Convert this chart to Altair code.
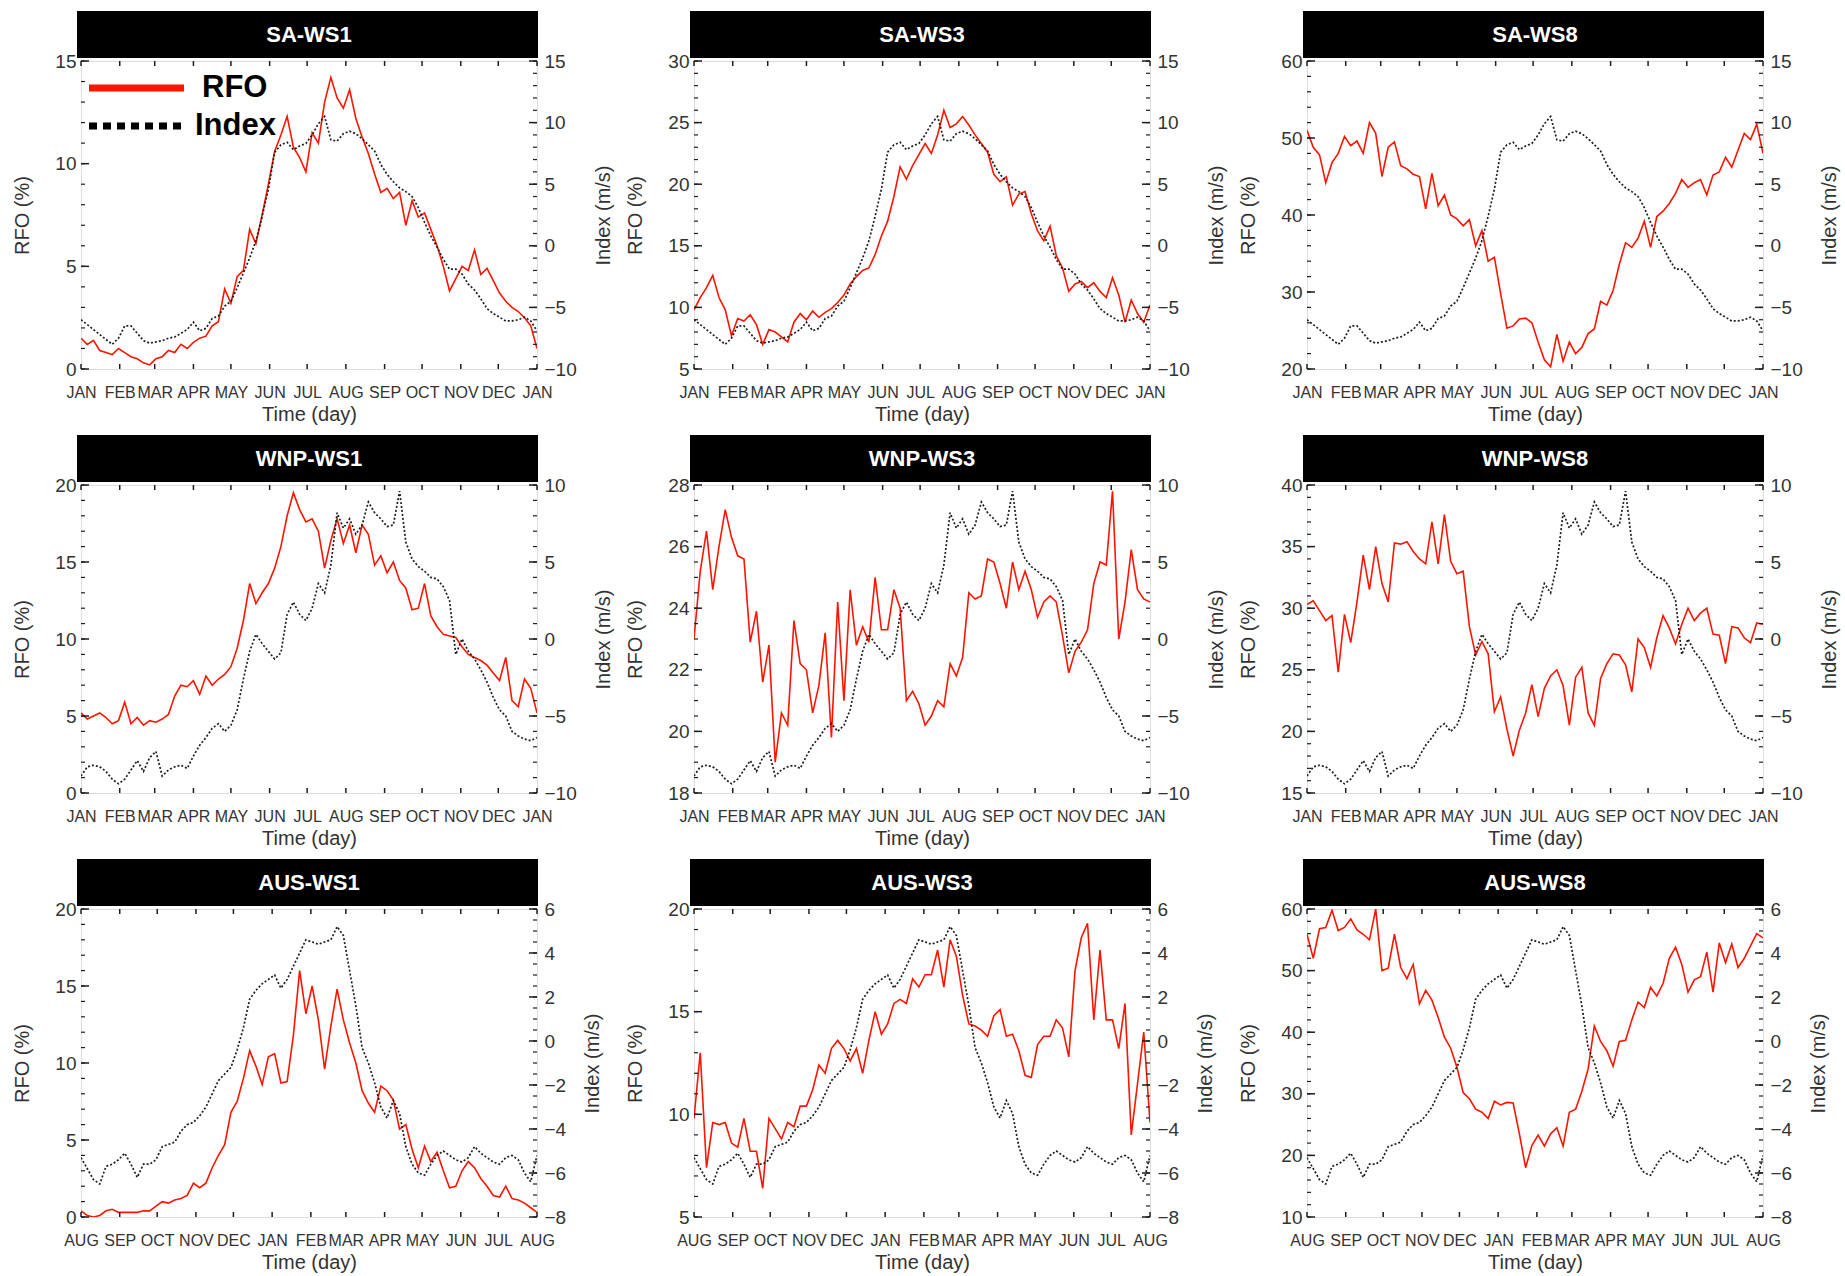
import altair as alt
import numpy as np
import pandas as pd

# ---------------- data (every 5 days) ----------------
DAYS = list(range(0, 366, 5))

MONTHS_JAN = ["JAN", "FEB", "MAR", "APR", "MAY", "JUN", "JUL", "AUG", "SEP", "OCT", "NOV", "DEC", "JAN"]
MONTH_DAYS_JAN = [0, 31, 59, 90, 120, 151, 181, 212, 243, 273, 304, 334, 365]
MONTHS_AUG = ["AUG", "SEP", "OCT", "NOV", "DEC", "JAN", "FEB", "MAR", "APR", "MAY", "JUN", "JUL", "AUG"]
MONTH_DAYS_AUG = [0, 31, 61, 92, 122, 153, 184, 212, 243, 273, 304, 334, 365]

SA_INDEX = [-6.0, -6.4, -6.8, -7.2, -7.6, -8.0, -7.5, -6.5, -6.5, -7.1,
            -7.7, -7.9, -7.8, -7.7, -7.5, -7.4, -7.1, -6.8, -6.2, -6.9,
            -6.7, -5.9, -5.7, -4.9, -4.5, -3.4, -2.2, -1.0, 0.4, 2.4,
            4.6, 7.6, 8.2, 8.4, 7.8, 8.1, 8.3, 9.0, 9.9, 10.5,
            8.6, 8.5, 9.1, 9.3, 9.1, 8.7, 8.2, 7.7, 6.6, 5.8,
            5.2, 4.7, 4.4, 4.0, 3.1, 1.9, 0.8, -0.1, -1.1, -1.9,
            -1.9, -2.3, -3.1, -3.6, -4.3, -5.1, -5.5, -5.8, -6.1, -6.1,
            -6.0, -5.8, -6.1, -6.9]

WNP_INDEX = [-8.9, -8.3, -8.2, -8.3, -8.6, -9.1, -9.4, -9.1, -8.5, -7.9,
             -8.6, -7.7, -7.3, -8.9, -8.5, -8.3, -8.2, -8.4, -7.6, -6.9,
             -6.4, -5.8, -5.5, -6.0, -5.6, -4.6, -2.6, -0.8, 0.3, -0.3,
             -0.8, -1.3, -0.9, 1.6, 2.4, 1.6, 1.2, 2.0, 3.6, 3.0,
             4.8, 8.2, 7.2, 7.8, 6.8, 7.4, 8.9, 8.2, 7.8, 7.3,
             7.4, 9.6, 6.3, 5.2, 4.7, 4.4, 4.0, 3.9, 3.4, 2.5,
             -1.0, 0.0, -0.8, -1.3, -2.0, -2.8, -3.8, -4.6, -5.0, -6.0,
             -6.3, -6.5, -6.6, -6.4]

AUS_INDEX = [-5.3, -5.8, -6.3, -6.5, -5.7, -5.6, -5.4, -5.1, -5.6, -6.2,
             -5.6, -5.6, -5.4, -4.8, -4.7, -4.6, -4.1, -3.8, -3.7, -3.4,
             -3.0, -2.4, -1.8, -1.5, -1.2, -0.4, 0.6, 1.9, 2.3, 2.6,
             2.8, 3.0, 2.4, 2.8, 3.4, 4.0, 4.6, 4.5, 4.4, 4.5,
             4.6, 5.2, 4.8, 3.2, 1.6, -0.3, -1.0, -1.9, -3.0, -3.5,
             -2.7, -3.3, -4.8, -5.6, -6.0, -6.1, -5.6, -5.2, -5.0, -5.2,
             -5.4, -5.5, -5.3, -4.8, -5.1, -5.3, -5.5, -5.6, -5.3, -5.2,
             -5.4, -6.0, -6.4, -5.2]

SA_WS1_RFO = [1.5, 1.2, 1.4, 0.9, 0.8, 0.7, 1.0, 0.8, 0.6, 0.5,
              0.3, 0.2, 0.5, 0.6, 0.9, 0.8, 1.2, 1.0, 1.3, 1.5,
              1.6, 2.1, 2.3, 3.9, 3.2, 4.5, 4.8, 6.8, 6.1, 7.5,
              9.0, 10.6, 11.4, 12.3, 10.8, 10.3, 9.6, 11.5, 11.0, 13.0,
              14.2, 13.2, 12.7, 13.6, 12.2, 11.3, 10.5, 9.5, 8.6, 8.8,
              8.3, 8.6, 7.0, 8.2, 7.4, 7.6, 6.8, 6.0, 5.0, 3.8,
              4.4, 5.0, 4.8, 5.8, 4.6, 4.9, 4.3, 3.7, 3.3, 3.0,
              2.8, 2.5, 2.1, 1.0]

SA_WS3_RFO = [9.8, 10.8, 11.6, 12.6, 10.8, 9.8, 7.7, 9.1, 8.9, 9.4,
              8.6, 7.0, 8.2, 8.0, 7.6, 7.2, 8.8, 9.5, 9.0, 9.7,
              9.2, 9.6, 9.9, 10.4, 11.0, 11.9, 12.5, 13.0, 13.2, 14.3,
              15.8, 17.0, 19.0, 21.4, 20.4, 21.5, 22.4, 23.3, 22.5, 24.0,
              26.0, 24.6, 24.9, 25.5, 24.8, 24.0, 23.3, 22.6, 20.8, 20.2,
              20.6, 18.3, 19.2, 19.4, 17.6, 16.2, 15.4, 16.6, 14.2, 13.2,
              11.3, 11.9, 12.1, 11.6, 12.0, 11.3, 10.8, 12.4, 11.0, 8.8,
              10.6, 9.5, 8.8, 10.2]

SA_WS8_RFO = [51.0, 48.8, 47.8, 44.2, 46.8, 48.0, 50.2, 49.0, 49.6, 48.0,
              52.0, 50.6, 45.0, 48.8, 49.5, 46.4, 46.0, 45.3, 45.0, 40.8,
              45.4, 41.2, 42.6, 40.0, 39.5, 38.6, 39.4, 36.0, 38.0, 34.0,
              34.5, 29.8, 25.3, 25.6, 26.5, 26.6, 26.0, 23.5, 21.2, 20.3,
              24.5, 21.0, 23.5, 22.0, 22.8, 24.6, 25.2, 28.8, 28.3, 30.2,
              33.6, 36.4, 35.8, 37.0, 39.2, 35.8, 39.8, 40.5, 41.5, 42.8,
              44.6, 43.6, 44.2, 44.6, 42.6, 45.2, 45.6, 47.5, 46.2, 48.4,
              50.6, 49.8, 51.8, 48.0]

WNP_WS1_RFO = [5.2, 4.8, 5.0, 5.2, 4.9, 4.5, 4.7, 5.9, 4.5, 4.9,
               4.4, 4.7, 4.6, 4.8, 5.1, 6.3, 7.0, 6.9, 7.3, 6.4,
               7.6, 7.0, 7.4, 7.7, 8.2, 9.4, 11.2, 13.6, 12.3, 13.0,
               13.6, 14.6, 16.0, 18.0, 19.5, 18.4, 17.6, 17.8, 17.0, 14.6,
               16.4, 17.8, 16.2, 17.4, 15.6, 17.4, 16.8, 14.8, 15.4, 14.3,
               15.0, 13.8, 13.3, 11.9, 12.0, 13.6, 11.5, 10.8, 10.3, 10.2,
               10.1, 9.5, 9.0, 8.8, 8.6, 8.3, 7.8, 7.3, 8.8, 6.0,
               5.6, 7.4, 6.8, 5.2]

WNP_WS3_RFO = [23.0, 25.2, 26.5, 24.6, 26.0, 27.2, 26.3, 25.7, 25.6, 22.9,
               23.9, 21.6, 22.8, 19.0, 20.6, 20.2, 23.6, 22.2, 22.0, 20.6,
               21.5, 23.2, 19.8, 24.2, 21.0, 24.6, 22.8, 23.4, 22.9, 25.0,
               23.3, 23.3, 24.6, 24.0, 21.0, 21.3, 20.9, 20.2, 20.5, 21.0,
               20.8, 22.2, 21.8, 22.4, 24.5, 24.3, 24.4, 25.6, 25.5, 24.8,
               24.0, 25.5, 24.6, 25.2, 24.6, 23.7, 24.2, 24.4, 24.2, 23.1,
               21.9, 22.6, 22.9, 23.3, 24.8, 25.5, 25.4, 27.8, 23.0, 24.2,
               25.9, 24.6, 24.3, 24.2]

WNP_WS8_RFO = [30.3, 30.6, 29.8, 29.0, 29.4, 24.8, 29.5, 27.2, 30.5, 34.3,
               31.5, 35.0, 32.0, 30.5, 35.3, 35.2, 35.4, 34.6, 34.0, 33.6,
               37.0, 33.6, 37.6, 33.8, 32.8, 33.0, 28.5, 26.2, 27.3, 26.3,
               21.6, 22.8, 20.2, 18.0, 20.1, 21.5, 23.8, 21.2, 23.5, 24.5,
               25.0, 23.7, 20.5, 24.4, 25.2, 21.5, 20.5, 24.3, 25.5, 26.3,
               26.2, 25.4, 23.2, 27.5, 26.8, 25.2, 27.6, 29.4, 28.4, 27.1,
               28.7, 30.0, 29.0, 29.6, 30.0, 27.9, 27.8, 25.5, 28.5, 28.4,
               27.6, 27.2, 28.8, 28.7]

AUS_WS1_RFO = [0.4, 0.1, 0.0, 0.1, 0.4, 0.5, 0.3, 0.3, 0.3, 0.3,
               0.4, 0.4, 0.7, 1.0, 0.9, 1.1, 1.2, 1.4, 2.2, 1.9,
               2.2, 3.2, 4.0, 4.7, 6.8, 7.5, 9.0, 10.8, 9.8, 8.6,
               10.4, 10.6, 8.7, 8.8, 11.8, 16.0, 13.2, 15.0, 12.8, 9.6,
               12.4, 14.8, 12.8, 11.3, 10.0, 8.2, 7.4, 6.8, 8.5, 8.2,
               7.6, 5.7, 6.0, 4.4, 3.2, 4.6, 3.6, 4.2, 3.0, 1.9,
               2.0, 3.0, 3.6, 3.2, 2.5, 2.0, 1.4, 1.3, 2.0, 1.2,
               1.1, 0.9, 0.6, 0.3]

AUS_WS3_RFO = [9.8, 13.0, 7.4, 9.6, 9.5, 9.6, 8.6, 8.4, 9.8, 8.2,
               8.2, 6.4, 9.8, 9.3, 8.8, 9.6, 9.4, 10.4, 10.4, 11.2,
               12.4, 12.0, 13.2, 13.6, 13.2, 12.6, 13.2, 12.0, 13.6, 15.0,
               13.9, 14.4, 15.4, 15.6, 15.4, 16.6, 16.2, 16.8, 16.8, 18.0,
               16.2, 18.5, 17.7, 15.8, 14.4, 14.3, 14.1, 13.8, 14.8, 15.1,
               13.8, 13.9, 13.1, 11.9, 11.8, 13.4, 13.8, 13.8, 14.6, 14.2,
               12.8, 17.0, 18.6, 19.3, 14.6, 18.0, 14.6, 14.6, 13.2, 15.4,
               9.0, 11.5, 14.0, 9.6]

AUS_WS8_RFO = [55.9, 52.0, 56.8, 57.0, 59.8, 56.5, 57.0, 58.4, 56.6, 55.9,
               55.0, 60.0, 50.0, 50.4, 55.9, 50.5, 48.7, 51.0, 44.6, 46.8,
               45.2, 42.4, 39.2, 37.4, 34.3, 30.2, 29.2, 27.5, 27.0, 26.0,
               28.8, 28.2, 28.6, 28.5, 23.5, 18.0, 21.6, 23.3, 21.5, 23.5,
               24.5, 21.5, 27.0, 27.5, 30.4, 34.0, 41.0, 38.5, 37.0, 34.5,
               38.5, 38.7, 42.0, 44.9, 44.0, 47.3, 45.9, 47.9, 52.0, 53.8,
               51.0, 46.5, 48.5, 49.0, 53.0, 46.5, 54.5, 51.3, 54.3, 50.5,
               52.0, 54.0, 56.0, 55.3]

PANEL_TITLES = ["SA-WS1", "SA-WS3", "SA-WS8", "WNP-WS1", "WNP-WS3", "WNP-WS8",
                "AUS-WS1", "AUS-WS3", "AUS-WS8"]
LEGEND_LABELS = ["RFO", "Index"]

PANELS = [
    dict(rfo=SA_WS1_RFO, idx=SA_INDEX, rdom=[0, 15], rticks=[0, 5, 10, 15], rminor=1,
         idom=[-10, 15], iticks=[-10, -5, 0, 5, 10, 15], iminor=1, season="jan"),
    dict(rfo=SA_WS3_RFO, idx=SA_INDEX, rdom=[5, 30], rticks=[5, 10, 15, 20, 25, 30], rminor=1,
         idom=[-10, 15], iticks=[-10, -5, 0, 5, 10, 15], iminor=1, season="jan"),
    dict(rfo=SA_WS8_RFO, idx=SA_INDEX, rdom=[20, 60], rticks=[20, 30, 40, 50, 60], rminor=2,
         idom=[-10, 15], iticks=[-10, -5, 0, 5, 10, 15], iminor=1, season="jan"),
    dict(rfo=WNP_WS1_RFO, idx=WNP_INDEX, rdom=[0, 20], rticks=[0, 5, 10, 15, 20], rminor=1,
         idom=[-10, 10], iticks=[-10, -5, 0, 5, 10], iminor=1, season="jan"),
    dict(rfo=WNP_WS3_RFO, idx=WNP_INDEX, rdom=[18, 28], rticks=[18, 20, 22, 24, 26, 28], rminor=0.5,
         idom=[-10, 10], iticks=[-10, -5, 0, 5, 10], iminor=1, season="jan"),
    dict(rfo=WNP_WS8_RFO, idx=WNP_INDEX, rdom=[15, 40], rticks=[15, 20, 25, 30, 35, 40], rminor=1,
         idom=[-10, 10], iticks=[-10, -5, 0, 5, 10], iminor=1, season="jan"),
    dict(rfo=AUS_WS1_RFO, idx=AUS_INDEX, rdom=[0, 20], rticks=[0, 5, 10, 15, 20], rminor=1,
         idom=[-8, 6], iticks=[-8, -6, -4, -2, 0, 2, 4, 6], iminor=0.5, season="aug"),
    dict(rfo=AUS_WS3_RFO, idx=AUS_INDEX, rdom=[5, 20], rticks=[5, 10, 15, 20], rminor=1,
         idom=[-8, 6], iticks=[-8, -6, -4, -2, 0, 2, 4, 6], iminor=0.5, season="aug"),
    dict(rfo=AUS_WS8_RFO, idx=AUS_INDEX, rdom=[10, 60], rticks=[10, 20, 30, 40, 50, 60], rminor=2,
         idom=[-8, 6], iticks=[-8, -6, -4, -2, 0, 2, 4, 6], iminor=0.5, season="aug"),
]

# ---------------- styling ----------------
W, H = 456, 308
FONT = "Liberation Sans"
RED = "#ff1400"
INK = "#1e1e1e"
GREY = "#333333"


def minor_ticks(dom, step):
    return [round(float(v), 3) for v in np.arange(dom[0], dom[1] + step / 2, step)]


def month_expr(names, days):
    arr = ",".join("'%s'" % n for n in names)
    pos = ",".join(str(d) for d in days)
    return "[%s][indexof([%s], datum.value)]" % (arr, pos)


def make_panel(i, p):
    names, mdays = (MONTHS_JAN, MONTH_DAYS_JAN) if p["season"] == "jan" else (MONTHS_AUG, MONTH_DAYS_AUG)
    x_enc = alt.X(
        "d:Q",
        scale=alt.Scale(domain=[0, 365], nice=False, zero=False),
        axis=alt.Axis(values=mdays, labelExpr=month_expr(names, mdays), title="Time (day)",
                      grid=False, domain=False, ticks=False, tickSize=0, labelPadding=15,
                      labelFontSize=16, labelOverlap=False, labelSeparation=0,
                      labelFlush=False, labelBound=False,
                      labelColor=GREY, titleColor=GREY, labelFont=FONT, titleFont=FONT,
                      titleFontSize=20, titleFontWeight="normal", titlePadding=4),
    )

    # ---- RFO (left axis) ----
    rdf = pd.DataFrame({"d": DAYS, "v": p["rfo"]})
    y_r = alt.Y(
        "v:Q",
        scale=alt.Scale(domain=p["rdom"], nice=False, zero=False),
        axis=alt.Axis(orient="left", values=p["rticks"], title="RFO (%)", format="d",
                      grid=False, domain=False, ticks=False, tickSize=0, labelPadding=5,
                      labelFontSize=19, labelColor=GREY, labelFont=FONT, labelFlush=False,
                      labelOverlap=False,
                      titleFontSize=20, titleColor=GREY, titleFont=FONT,
                      titleFontWeight="normal", titlePadding=22),
    )
    rfo_line = alt.Chart(rdf).mark_line(color=RED, strokeWidth=1.6, clip=True).encode(x=x_enc, y=y_r)
    r_major = alt.Chart(pd.DataFrame({"v": p["rticks"]})).mark_rule(color=INK, strokeWidth=1.5).encode(
        y="v:Q", x=alt.value(0), x2=alt.value(8))
    r_minor = alt.Chart(pd.DataFrame({"v": minor_ticks(p["rdom"], p["rminor"])})).mark_rule(
        color=INK, strokeWidth=1.2).encode(y="v:Q", x=alt.value(0), x2=alt.value(4))
    mdf = pd.DataFrame({"d": mdays})
    m_bot = alt.Chart(mdf).mark_rule(color=INK, strokeWidth=1.5).encode(
        x=x_enc, y=alt.value(H - 5), y2=alt.value(H))
    m_top = alt.Chart(mdf).mark_rule(color=INK, strokeWidth=1.5).encode(
        x=x_enc, y=alt.value(0), y2=alt.value(5))
    rfo_layer = alt.layer(rfo_line, r_major, r_minor, m_bot, m_top)

    # ---- Index (right axis) ----
    idf = pd.DataFrame({"d": DAYS, "v": p["idx"]})
    y_i = alt.Y(
        "v:Q",
        scale=alt.Scale(domain=p["idom"], nice=False, zero=False),
        axis=alt.Axis(orient="right", values=p["iticks"], title="Index (m/s)", format="d",
                      grid=False, domain=False, ticks=False, tickSize=0, labelPadding=7,
                      labelFontSize=19, labelColor=GREY, labelFont=FONT, labelFlush=False,
                      labelOverlap=False,
                      titleFontSize=20, titleColor=GREY, titleFont=FONT,
                      titleFontWeight="normal", titlePadding=17, titleAngle=270,
                      titleBaseline="top"),
    )
    idx_line = alt.Chart(idf).mark_line(color=INK, strokeWidth=1.7, strokeDash=[2, 2],
                                        clip=True).encode(x=x_enc, y=y_i)
    i_major = alt.Chart(pd.DataFrame({"v": p["iticks"]})).mark_rule(color=INK, strokeWidth=1.5).encode(
        y="v:Q", x=alt.value(W - 8), x2=alt.value(W))
    i_minor = alt.Chart(pd.DataFrame({"v": minor_ticks(p["idom"], p["iminor"])})).mark_rule(
        color=INK, strokeWidth=1.2).encode(y="v:Q", x=alt.value(W - 4), x2=alt.value(W))
    idx_layer = alt.layer(idx_line, i_major, i_minor)

    # ---- title bar ----
    tdf = pd.DataFrame({"t": [PANEL_TITLES[i]]})
    bar = alt.Chart(tdf).mark_rect(color="black").encode(
        x=alt.value(-4), x2=alt.value(W + 1), y=alt.value(-50), y2=alt.value(-3))
    bar_text = alt.Chart(tdf).mark_text(color="white", fontSize=22, fontWeight="bold", font=FONT,
                                        baseline="middle", align="center").encode(
        x=alt.value(W / 2), y=alt.value(-26), text="t:N")

    layers = [rfo_layer, idx_layer, bar, bar_text]

    if i == 0:
        ldf_r = pd.DataFrame({"t": [LEGEND_LABELS[0]]})
        ldf_i = pd.DataFrame({"t": [LEGEND_LABELS[1]]})
        leg_r_line = alt.Chart(ldf_r).mark_rule(color=RED, strokeWidth=7).encode(
            x=alt.value(8), x2=alt.value(103), y=alt.value(27))
        leg_r_text = alt.Chart(ldf_r).mark_text(fontSize=31, fontWeight="bold", font=FONT, color="black",
                                                align="left", baseline="middle").encode(
            x=alt.value(121), y=alt.value(27), text="t:N")
        leg_i_line = alt.Chart(ldf_i).mark_rule(color="black", strokeWidth=7, strokeDash=[8, 6]).encode(
            x=alt.value(8), x2=alt.value(103), y=alt.value(65))
        leg_i_text = alt.Chart(ldf_i).mark_text(fontSize=31, fontWeight="bold", font=FONT, color="black",
                                                align="left", baseline="middle").encode(
            x=alt.value(114), y=alt.value(65), text="t:N")
        layers += [leg_r_line, leg_r_text, leg_i_line, leg_i_text]

    return alt.layer(*layers).resolve_scale(y="independent").properties(width=W, height=H)


panels = [make_panel(i, p) for i, p in enumerate(PANELS)]

chart = alt.concat(*panels, columns=3, spacing={"row": 9, "column": 11}).properties(
    padding={"left": 12, "top": 10, "right": 2, "bottom": 0},
    background="white",
).configure_view(stroke=INK, strokeWidth=2).configure_axis(
    labelOverlap=False, labelSeparation=0
).configure(font=FONT)

chart.save("out.html", embed_options={"renderer": "svg", "actions": False})
